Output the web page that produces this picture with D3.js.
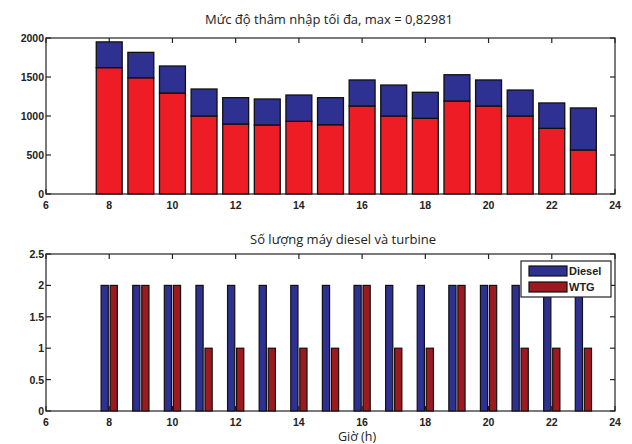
<!DOCTYPE html>
<html><head><meta charset="utf-8">
<script src="https://cdn.jsdelivr.net/npm/d3@7"></script>
<style>body{margin:0;background:#fff}svg{display:block}</style>
</head><body>
<script>
const hours = [8,9,10,11,12,13,14,15,16,17,18,19,20,21,22,23];
const redPart = [1620,1490,1295,1000,897,885,932,888,1128,1000,970,1192,1128,1000,842,564];
const bluePart = [330,326,346,346,338,333,337,347,334,397,334,337,334,333,325,539];
const diesel = [2,2,2,2,2,2,2,2,2,2,2,2,2,2,2,2];
const wtg = [2,2,2,1,1,1,1,1,2,1,1,2,2,1,1,1];
const xTicks = [6,8,10,12,14,16,18,20,22,24];
const yTicksTop = [0,500,1000,1500,2000];
const yTicksBot = [0,0.5,1,1.5,2,2.5];
const seriesNames = ["Diesel","WTG"];
const titleTop = "Mức độ thâm nhập tối đa, max = 0,82981";
const titleBot = "Số lượng máy diesel và turbine";
const xLabel = "Giờ (h)";

const W = 632, H = 444;
const RED = "#ee1d25", BLUE = "#2e3192", DRED = "#9c1a1f";
const svg = d3.select("body").append("svg").attr("width", W).attr("height", H);

const x = d3.scaleLinear().domain([6,24]).range([46,615]);
const yT = d3.scaleLinear().domain([0,2000]).range([194,38]);
const yB = d3.scaleLinear().domain([0,2.5]).range([411,254]);

function frame(y, yTicks, fmt) {
  const g = svg.append("g");
  const [y0, y1] = y.range();
  const xl = x.range()[0], xr = x.range()[1];
  g.selectAll(".xl").data(xTicks).join("text")
    .attr("x", d => x(d)).attr("y", y0 + 14.5)
    .attr("text-anchor","middle").attr("font-family","Liberation Sans, Arial, sans-serif")
    .attr("font-weight","bold").attr("font-size",10.5).attr("fill","#222").text(d => d);
  g.selectAll(".yl").data(yTicks).join("text")
    .attr("x", xl - 2).attr("y", d => y(d) + 4)
    .attr("text-anchor","end").attr("font-family","Liberation Sans, Arial, sans-serif")
    .attr("font-weight","bold").attr("font-size",10.5).attr("fill","#222").text(fmt);
  return g;
}
function ticksAndBox(y, yTicks) {
  const g = svg.append("g").attr("stroke","#222").attr("stroke-width",1.2).attr("fill","none");
  const [y0, y1] = y.range();
  const xl = x.range()[0], xr = x.range()[1];
  const L = 5;
  xTicks.forEach(d => {
    g.append("line").attr("x1",x(d)).attr("x2",x(d)).attr("y1",y0).attr("y2",y0-L);
    g.append("line").attr("x1",x(d)).attr("x2",x(d)).attr("y1",y1).attr("y2",y1+L);
  });
  yTicks.forEach(d => {
    g.append("line").attr("x1",xl).attr("x2",xl+L).attr("y1",y(d)).attr("y2",y(d));
    g.append("line").attr("x1",xr).attr("x2",xr-L).attr("y1",y(d)).attr("y2",y(d));
  });
  g.append("rect").attr("x",xl).attr("y",y1).attr("width",xr-xl).attr("height",y0-y1);
}

// Top chart
frame(yT, yTicksTop, d => d);
ticksAndBox(yT, yTicksTop);
const bw = 0.82;
const topG = svg.append("g").attr("stroke","#111").attr("stroke-width",1.3);
topG.selectAll(".r").data(hours).join("rect")
  .attr("x", d => x(d - bw/2)).attr("width", x(bw) - x(0))
  .attr("y", (d,i) => yT(redPart[i])).attr("height", (d,i) => yT(0) - yT(redPart[i]))
  .attr("fill", RED);
topG.selectAll(".b").data(hours).join("rect")
  .attr("x", d => x(d - bw/2)).attr("width", x(bw) - x(0))
  .attr("y", (d,i) => yT(redPart[i] + bluePart[i])).attr("height", (d,i) => yT(redPart[i]) - yT(redPart[i] + bluePart[i]))
  .attr("fill", BLUE);

svg.append("text").attr("x",329).attr("y",24).attr("text-anchor","middle")
  .attr("font-family","Open Sans, sans-serif").attr("font-size",13).attr("fill","#222").text(titleTop);

// Bottom chart
frame(yB, yTicksBot, d => d);
ticksAndBox(yB, yTicksBot);
const slot = 0.286, bbw = 0.228;
const off = {Diesel: -slot/2, WTG: slot/2};
const botData = [];
hours.forEach((h,i) => {
  botData.push({h, s:"Diesel", v: diesel[i]});
  botData.push({h, s:"WTG", v: wtg[i]});
});
const botG = svg.append("g").attr("stroke","#111").attr("stroke-width",1.2);
botG.selectAll("rect").data(botData).join("rect")
  .attr("x", d => x(d.h + off[d.s] - bbw/2)).attr("width", x(bbw) - x(0))
  .attr("y", d => yB(d.v)).attr("height", d => yB(0) - yB(d.v))
  .attr("fill", d => d.s === "Diesel" ? BLUE : DRED);

svg.append("text").attr("x",343).attr("y",244).attr("text-anchor","middle")
  .attr("font-family","Open Sans, sans-serif").attr("font-size",13).attr("fill","#222").text(titleBot);
svg.append("text").attr("x",357).attr("y",441).attr("text-anchor","middle")
  .attr("font-family","Open Sans, sans-serif").attr("font-size",12.5).attr("fill","#222").text(xLabel);

// Legend
const lg = svg.append("g");
lg.append("rect").attr("x",521).attr("y",261).attr("width",90).attr("height",36)
  .attr("fill","#fff").attr("stroke","#222").attr("stroke-width",1.2);
seriesNames.forEach((s,i) => {
  lg.append("rect").attr("x",529).attr("y",266 + i*16).attr("width",38).attr("height",10)
    .attr("fill", s === "Diesel" ? BLUE : DRED).attr("stroke","#111").attr("stroke-width",1.2);
  lg.append("text").attr("x",569).attr("y",275 + i*16)
    .attr("font-family","Liberation Sans, Arial, sans-serif").attr("font-weight","bold")
    .attr("font-size",11).attr("fill","#222").text(s);
});
</script>
</body></html>
